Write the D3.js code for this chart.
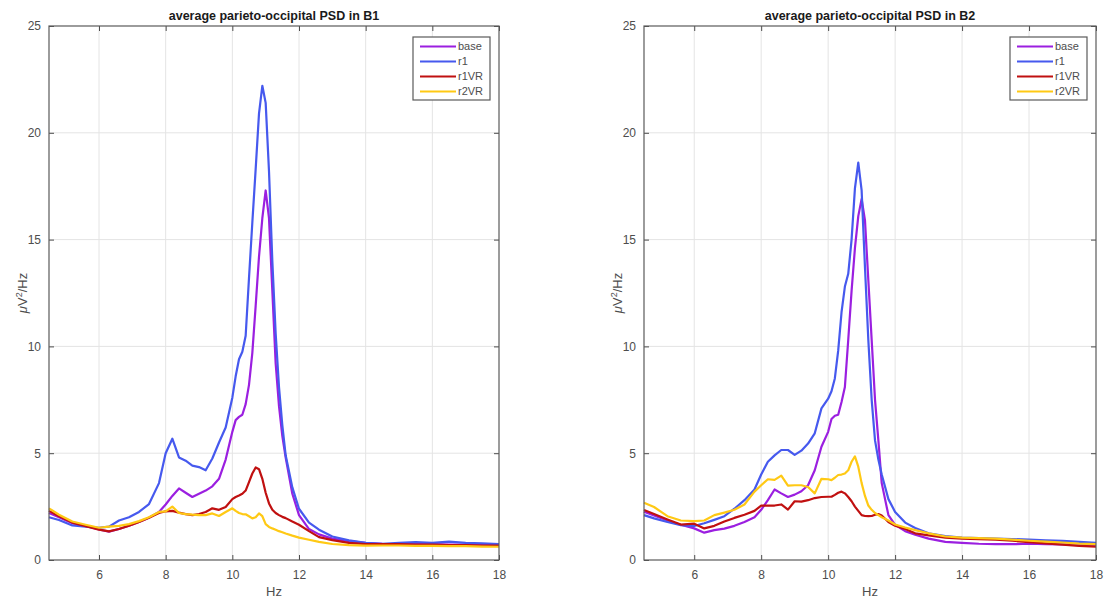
<!DOCTYPE html>
<html>
<head>
<meta charset="utf-8">
<script src="https://cdn.jsdelivr.net/npm/d3@7"></script>
<style>
  body { margin: 0; background: #fff; }
  svg { font-family: "Liberation Sans", Arial, sans-serif; }
  .tick text { fill: #4d4d4d; font-size: 12px; }
  .tick line { stroke: #4d4d4d; }
  .domain { display: none; }
</style>
</head>
<body>
<div id="graf"></div>
<script>
// frekvencije (Hz)
const hz = [4.5, 4.8, 5.2, 5.6, 6.0, 6.3, 6.6, 6.9, 7.2, 7.5, 7.8, 8.0, 8.2, 8.4, 8.6, 8.8,
  9.0, 9.2, 9.4, 9.6, 9.8, 10.0, 10.1, 10.2, 10.3, 10.4, 10.5, 10.6, 10.7, 10.8, 10.9,
  11.0, 11.1, 11.2, 11.3, 11.4, 11.5, 11.6, 11.8, 12.0, 12.3, 12.6, 13.0, 13.5, 14.0,
  14.5, 15.0, 15.5, 16.0, 16.5, 17.0, 17.5, 18.0];

const serije = ["base", "r1", "r1VR", "r2VR"];
const xTicks = [6, 8, 10, 12, 14, 16, 18];
const yTicks = [0, 5, 10, 15, 20, 25];

// B1
const b1Base = [2.2, 2.0, 1.72, 1.6, 1.43, 1.33, 1.45, 1.6, 1.78, 1.98, 2.25, 2.6, 3.0, 3.35, 3.15, 2.95,
  3.1, 3.25, 3.45, 3.8, 4.7, 6.0, 6.55, 6.7, 6.8, 7.3, 8.2, 9.7, 11.9, 14.2, 16.0,
  17.3, 16.0, 12.6, 9.2, 7.2, 5.8, 4.8, 3.1, 2.1, 1.45, 1.2, 1.0, 0.88, 0.8,
  0.76, 0.75, 0.75, 0.74, 0.72, 0.72, 0.7, 0.7];
const b1R1 = [2.0, 1.87, 1.62, 1.56, 1.51, 1.56, 1.85, 2.0, 2.25, 2.62, 3.6, 5.0, 5.68, 4.8, 4.65, 4.42,
  4.35, 4.2, 4.75, 5.5, 6.2, 7.6, 8.6, 9.4, 9.75, 10.5, 13.2, 15.8, 18.3, 20.9, 22.2,
  21.4, 18.2, 14.0, 10.6, 8.1, 6.3, 4.9, 3.4, 2.4, 1.75, 1.42, 1.1, 0.92, 0.8,
  0.76, 0.8, 0.84, 0.8, 0.86, 0.8, 0.78, 0.75];
const b1R1VR = [2.3, 2.05, 1.75, 1.58, 1.42, 1.34, 1.45, 1.6, 1.78, 1.98, 2.2, 2.28, 2.3, 2.22, 2.15, 2.1,
  2.15, 2.25, 2.42, 2.35, 2.48, 2.85, 2.95, 3.02, 3.1, 3.25, 3.65, 4.05, 4.33, 4.25, 3.8,
  3.15, 2.65, 2.35, 2.2, 2.1, 2.02, 1.96, 1.8, 1.65, 1.35, 1.07, 0.93, 0.8, 0.74,
  0.74, 0.75, 0.72, 0.72, 0.7, 0.7, 0.68, 0.68];
const b1R2VR = [2.42, 2.12, 1.8, 1.65, 1.51, 1.56, 1.6, 1.68, 1.82, 2.0, 2.25, 2.28, 2.5, 2.2, 2.15, 2.12,
  2.1, 2.1, 2.18, 2.06, 2.25, 2.42, 2.3, 2.2, 2.15, 2.14, 2.05, 1.95, 2.0, 2.18, 2.05,
  1.68, 1.55, 1.48, 1.42, 1.35, 1.3, 1.24, 1.14, 1.05, 0.95, 0.85, 0.75, 0.7, 0.67,
  0.68, 0.68, 0.66, 0.66, 0.65, 0.65, 0.63, 0.62];

// B2
const b2Base = [2.26, 2.08, 1.85, 1.65, 1.48, 1.28, 1.4, 1.47, 1.6, 1.78, 2.0, 2.35, 2.8, 3.3, 3.12, 2.95,
  3.06, 3.22, 3.5, 4.2, 5.3, 6.0, 6.6, 6.75, 6.8, 7.4, 8.1, 10.3, 12.6, 14.6, 16.1,
  16.9, 15.9, 13.1, 10.3, 7.5, 5.6, 3.6, 2.1, 1.65, 1.35, 1.18, 1.0, 0.85, 0.8,
  0.76, 0.74, 0.74, 0.76, 0.74, 0.73, 0.7, 0.68];
const b2R1 = [2.1, 1.95, 1.78, 1.63, 1.59, 1.72, 1.88, 2.05, 2.4, 2.8, 3.3, 4.0, 4.6, 4.9, 5.15, 5.15,
  4.92, 5.12, 5.45, 5.93, 7.1, 7.55, 7.9, 8.5, 9.8, 11.6, 12.8, 13.4, 15.0, 17.4, 18.6,
  17.3, 13.7, 10.3, 7.5, 5.6, 4.7, 4.0, 2.85, 2.25, 1.75, 1.5, 1.25, 1.12, 1.05,
  1.02, 1.0, 0.98, 0.95, 0.92, 0.9, 0.85, 0.8];
const b2R1VR = [2.34, 2.15, 1.9, 1.66, 1.7, 1.48, 1.6, 1.8, 1.97, 2.12, 2.3, 2.55, 2.55, 2.55, 2.6, 2.36,
  2.75, 2.73, 2.8, 2.9, 2.95, 2.96, 2.96, 3.05, 3.15, 3.2, 3.12, 2.95, 2.75, 2.5, 2.3,
  2.1, 2.06, 2.05, 2.06, 2.12, 2.15, 2.08, 1.78, 1.6, 1.45, 1.25, 1.15, 1.05, 1.0,
  0.98, 0.95, 0.9, 0.84, 0.78, 0.72, 0.66, 0.63];
const b2R2VR = [2.68, 2.48, 2.05, 1.85, 1.82, 1.85, 2.1, 2.22, 2.35, 2.6, 3.2, 3.5, 3.78, 3.75, 3.95, 3.48,
  3.5, 3.5, 3.42, 3.12, 3.8, 3.78, 3.74, 3.85, 3.98, 4.0, 4.05, 4.2, 4.6, 4.85, 4.37,
  3.6, 3.0, 2.55, 2.35, 2.2, 2.1, 2.0, 1.85, 1.66, 1.52, 1.4, 1.25, 1.1, 1.05,
  1.02, 1.0, 0.95, 0.9, 0.86, 0.82, 0.77, 0.74];

const boje = ["#9b1fe0", "#4659ee", "#c01010", "#ffc914"];

const okvir = d3.select("#graf")
  .append("svg")
  .attr("width", 1104)
  .attr("height", 599);

const crtajPanel = (naslov, podaci, dim) => {
  const xSkala = d3.scaleLinear().domain([4.5, 18]).range([dim.left, dim.right]);
  const ySkala = d3.scaleLinear().domain([0, 25]).range([dim.bottom, dim.top]);
  const sirina = dim.right - dim.left;
  const visina = dim.bottom - dim.top;

  const g = okvir.append("g");

  // mreza
  g.append("g").selectAll("line")
    .data(xTicks.filter(d => d < 18))
    .join("line")
    .attr("x1", d => xSkala(d)).attr("x2", d => xSkala(d))
    .attr("y1", dim.top).attr("y2", dim.bottom)
    .attr("stroke", "#e4e4e4").attr("stroke-width", 1);
  g.append("g").selectAll("line")
    .data(yTicks.filter(d => d > 0 && d < 25))
    .join("line")
    .attr("x1", dim.left).attr("x2", dim.right)
    .attr("y1", d => ySkala(d)).attr("y2", d => ySkala(d))
    .attr("stroke", "#e4e4e4").attr("stroke-width", 1);

  // krivulje
  const linija = d3.line()
    .x((d, i) => xSkala(hz[i]))
    .y(d => ySkala(d));
  g.append("g").selectAll("path")
    .data(podaci)
    .join("path")
    .attr("d", d => linija(d))
    .attr("fill", "none")
    .attr("stroke", (d, i) => boje[i])
    .attr("stroke-width", 2.2)
    .attr("stroke-linejoin", "round");

  // osi (kvacice prema unutra)
  g.append("g")
    .attr("transform", `translate(0,${dim.bottom})`)
    .call(d3.axisBottom(xSkala).tickValues(xTicks).tickSize(-5).tickPadding(10));
  g.append("g")
    .attr("transform", `translate(0,${dim.top})`)
    .call(d3.axisTop(xSkala).tickValues(xTicks).tickSize(-5).tickFormat(""));
  g.append("g")
    .attr("transform", `translate(${dim.left},0)`)
    .call(d3.axisLeft(ySkala).tickValues(yTicks).tickSize(-5).tickPadding(8));
  g.append("g")
    .attr("transform", `translate(${dim.right},0)`)
    .call(d3.axisRight(ySkala).tickValues(yTicks).tickSize(-5).tickFormat(""));

  g.append("rect")
    .attr("x", dim.left).attr("y", dim.top)
    .attr("width", sirina).attr("height", visina)
    .attr("fill", "none").attr("stroke", "#5a5a5a").attr("stroke-width", 1.2);

  g.append("text")
    .attr("x", dim.left + sirina / 2).attr("y", dim.top - 6)
    .attr("text-anchor", "middle")
    .attr("font-size", 12.5).attr("font-weight", "bold").attr("fill", "#1a1a1a")
    .text(naslov);

  g.append("text")
    .attr("x", dim.left + sirina / 2).attr("y", 596)
    .attr("text-anchor", "middle")
    .attr("font-size", 13).attr("fill", "#4d4d4d")
    .text("Hz");

  const yOznaka = g.append("text")
    .attr("transform", `translate(${dim.left - 22},${dim.top + visina / 2}) rotate(-90)`)
    .attr("text-anchor", "middle")
    .attr("font-size", 13).attr("fill", "#4d4d4d");
  yOznaka.append("tspan").attr("font-style", "italic").text("\u03bc");
  yOznaka.append("tspan").text("V");
  yOznaka.append("tspan").attr("font-size", 9).attr("dy", -5).text("2");
  yOznaka.append("tspan").attr("dy", 5).text("/Hz");

  // legenda
  const lg = g.append("g")
    .attr("transform", `translate(${dim.right - 86},${dim.top + 11})`);
  lg.append("rect")
    .attr("width", 77).attr("height", 63)
    .attr("fill", "#fff").attr("stroke", "#5a5a5a").attr("stroke-width", 1.2);
  const stavke = lg.selectAll(".stavka")
    .data(serije)
    .join("g")
    .attr("class", "stavka")
    .attr("transform", (d, i) => `translate(0,${9.5 + i * 15})`);
  stavke.append("line")
    .attr("x1", 7).attr("x2", 43)
    .attr("stroke", (d, i) => boje[i]).attr("stroke-width", 2.2);
  stavke.append("text")
    .attr("x", 45).attr("dy", "0.35em")
    .attr("font-size", 11).attr("fill", "#4d4d4d")
    .text(d => d);
};

crtajPanel("average parieto-occipital PSD in B1",
  [b1Base, b1R1, b1R1VR, b1R2VR],
  { left: 49, right: 499, top: 26, bottom: 560 });
crtajPanel("average parieto-occipital PSD in B2",
  [b2Base, b2R1, b2R1VR, b2R2VR],
  { left: 644, right: 1096, top: 26, bottom: 560 });
</script>
</body>
</html>
